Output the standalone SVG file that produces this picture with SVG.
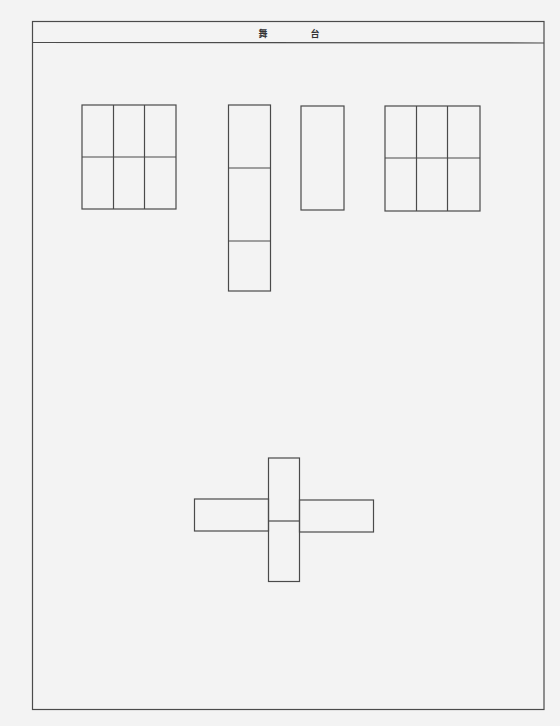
<svg xmlns="http://www.w3.org/2000/svg" width="560" height="726" viewBox="0 0 560 726">
<style>
.ln{fill:none;stroke:#4a4a4a;stroke-width:1.2}
.t{font-family:"Noto Sans CJK SC","Noto Sans CJK JP",sans-serif;font-size:9px;font-weight:bold;fill:#333;text-anchor:middle}
</style>
<rect x="0" y="0" width="560" height="726" fill="#f3f3f3"/>
<g id="frame">
<rect class="ln" x="32.5" y="21.5" width="511.5" height="688"/>
<line class="ln" x1="32.5" y1="42.5" x2="544" y2="43"/>
<text class="t" x="263" y="36.5">舞</text>
<text class="t" x="315" y="36.5">台</text>
</g>
<g id="grid-left">
<rect class="ln" x="82" y="105" width="94" height="104"/>
<line class="ln" x1="113.5" y1="105" x2="113.5" y2="209"/>
<line class="ln" x1="144.5" y1="105" x2="144.5" y2="209"/>
<line class="ln" x1="82" y1="157" x2="176" y2="157"/>
</g>
<g id="column">
<rect class="ln" x="228.5" y="105" width="42" height="186"/>
<line class="ln" x1="228.5" y1="168" x2="270.5" y2="168"/>
<line class="ln" x1="228.5" y1="241" x2="270.5" y2="241"/>
</g>
<g id="single">
<rect class="ln" x="301" y="106" width="43" height="104"/>
</g>
<g id="grid-right">
<rect class="ln" x="385" y="106" width="95" height="105"/>
<line class="ln" x1="416.5" y1="106" x2="416.5" y2="211"/>
<line class="ln" x1="447.5" y1="106" x2="447.5" y2="211"/>
<line class="ln" x1="385" y1="158" x2="480" y2="158"/>
</g>
<g id="cross">
<rect class="ln" x="194.5" y="499" width="74" height="32"/>
<rect class="ln" x="299.5" y="500" width="74" height="32"/>
<rect class="ln" x="268.5" y="458" width="31" height="123.5"/>
<line class="ln" x1="268.5" y1="521" x2="299.5" y2="521"/>
</g>
</svg>
